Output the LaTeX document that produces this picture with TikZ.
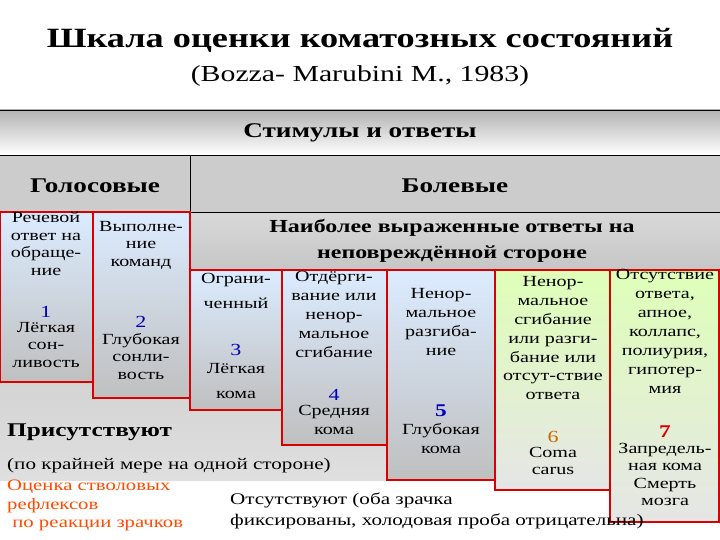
\documentclass[tikz,border=0pt]{standalone}
\usepackage{fontspec}
\setmainfont{Liberation Serif}[FakeStretch=1.3]
\begin{document}
\begin{tikzpicture}[x=0.035278cm,y=-0.035278cm,
  box/.style={draw=red!85!black,line width=1.6pt},
  bt/.style={align=center,font=\fontsize{15.5}{17.5}\selectfont,inner sep=0pt,anchor=north},
  btw/.style={bt,font=\fontsize{15.5}{19}\selectfont},
  num/.style={font=\fontsize{17}{19}\selectfont,text=blue!75!black,inner sep=0pt},
  hd/.style={font=\bfseries\fontsize{21}{24}\selectfont,inner sep=0pt}]
\useasboundingbox (0,0) rectangle (720,540);
\fill[white] (0,0) rectangle (720,540);
% background gray region
\shade[top color=gray!55,bottom color=gray!25] (0,155) rectangle (720,480);
\fill[white] (390,480) rectangle (720,540);
% top band
\shade[top color=gray!60,bottom color=white] (0,110) rectangle (720,155);
\draw[black,line width=0.8pt] (0,110) -- (720,110);
\fill[gray!40] (0,155) rectangle (720,212);
\draw[black,line width=0.8pt] (0,155) -- (720,155) (190,155) -- (190,212) (190,212) -- (720,212);
\shade[top color=gray!30,bottom color=gray!45] (190,213) rectangle (720,270);
% boxes
\colorlet{lb}{cyan!45!blue!14!white}
\colorlet{lg}{green!45!yellow!28!white}
\shade[box,top color=lb,bottom color=gray!50] (0,212) rectangle (93,382);
\shade[box,top color=lb,bottom color=gray!50] (93,212) rectangle (190,398);
\shade[box,top color=lb,bottom color=gray!50] (190,270) rectangle (282,410);
\shade[box,top color=lb,bottom color=gray!50] (282,270) rectangle (387,445);
\shade[box,top color=lb,bottom color=gray!50] (387,270) rectangle (495,480);
\shade[box,top color=lg,bottom color=gray!20] (495,270) rectangle (610,490);
\shade[box,top color=lg,bottom color=gray!20] (610,270) rectangle (719,522);
% titles
\node[font=\bfseries\fontsize{28}{32}\selectfont,inner sep=0pt] (t1) at (360,40) {Шкала оценки коматозных состояний};
\node[font=\fontsize{23}{28}\selectfont,inner sep=0pt] (t2) at (360,76) {(Bozza- Marubini M., 1983)};
\node[hd] (st) at (360,133) {Стимулы и ответы};
\node[hd] (gol) at (95,186) {Голосовые};
\node[hd] (bol) at (455,186) {Болевые};
\node[hd,align=center,font=\bfseries\fontsize{18.5}{26}\selectfont] (nb) at (452,241) {Наиболее выраженные ответы на\\неповреждённой стороне};
% box 1
\node[bt] (b1a) at (46,212) {Речевой\\ответ на\\обраще-\\ние};
\node[num] (n1) at (46,312) {1};
\node[bt] (b1b) at (46,322) {Лёгкая\\сон-\\ливость};
% box 2
\node[bt] (b2a) at (141,221) {Выполне-\\ние\\команд};
\node[num] (n2) at (141,322) {2};
\node[bt] (b2b) at (141,333) {Глубокая\\сонли-\\вость};
% box 3
\node[bt,font=\fontsize{15.5}{25}\selectfont] (b3a) at (236,273) {Ограни-\\ченный};
\node[num] (n3) at (236,350) {3};
\node[bt,font=\fontsize{15.5}{25}\selectfont] (b3b) at (236,363) {Лёгкая\\кома};
% box 4
\node[btw] (b4a) at (334,271) {Отдёрги-\\вание или\\ненор-\\мальное\\сгибание};
\node[num] (n4) at (334,395) {4};
\node[btw] (b4b) at (334,405) {Средняя\\кома};
% box 5
\node[btw] (b5a) at (441,288) {Ненор-\\мальное\\разгиба-\\ние};
\node[num,font=\bfseries\fontsize{18}{20}\selectfont] (n5) at (441,411) {5};
\node[btw] (b5b) at (441,423) {Глубокая\\кома};
% box 6
\node[btw] (b6a) at (553,276) {Ненор-\\мальное\\сгибание\\или разги-\\бание или\\отсут-ствие\\ответа};
\node[num,text=orange!80!black] (n6) at (553,437) {6};
\node[bt] (b6b) at (553,447) {Coma\\carus};
\node[btw] (b7a) at (665,269) {Отсутствие\\ответа,\\апное,\\коллапс,\\полиурия,\\гипотер-\\мия};
\node[num,text=red!85!black,font=\bfseries\fontsize{18}{20}\selectfont] (n7) at (665,432) {7};
\node[bt] (b7b) at (665,443) {Запредель-\\ная кома\\Смерть\\мозга};
% bottom texts
\node[anchor=west,inner sep=0pt,font=\bfseries\fontsize{19.5}{22}\selectfont] (pr) at (7,432) {Присутствуют};
\node[anchor=west,inner sep=0pt,font=\fontsize{16.3}{18}\selectfont] (pk) at (7,466) {(по крайней мере на одной стороне)};
\node[anchor=north west,inner sep=0pt,align=left,text=orange!60!red,font=\fontsize{16}{18.5}\selectfont] (oc) at (7,480) {Оценка стволовых\\рефлексов\\\ по реакции зрачков};
\node[anchor=north west,inner sep=0pt,align=left,font=\fontsize{16.3}{21}\selectfont] (ots) at (230,493) {Отсутствуют (оба зрачка\\фиксированы, холодовая проба отрицательна)};
\end{tikzpicture}
\end{document}
